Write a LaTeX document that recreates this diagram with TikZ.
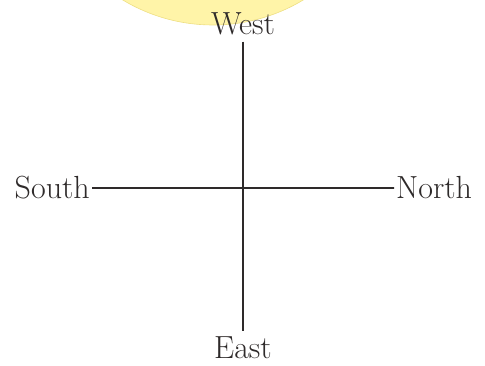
\documentclass[tikz,border=0pt]{standalone}
\usepackage{tikz}
\usetikzlibrary{positioning}
\definecolor{sun_fill}{HTML}{FFF4A8}
\definecolor{sun_edge}{HTML}{EEDF84}
\definecolor{axis_gray}{HTML}{2E2A2A}

\begin{document}
\begin{tikzpicture}[
                x=1pt, y=-1pt,
                dir/.style={font=\fontsize{32}{38}\selectfont, text=axis_gray, inner sep=2pt},
                axis/.style={line width=1.7pt, draw=axis_gray}
            ]
                \clip (0,0) rectangle (485,366);
                \useasboundingbox (0,0) rectangle (485,366);

                % Sun
                \node (sun) [circle, fill=sun_fill, draw=sun_edge, line width=0.6pt, minimum size=350pt, inner sep=0pt] at (213,-150) {};

                % Directions
                \node (west) [dir, anchor=base] at (243,35) {West};
                \node (east) [dir, anchor=base] at (243,358) {East};
                \node (south) [dir, anchor=base east] at (92,199) {South};
                \node (north) [dir, anchor=base west] at (394,199) {North};

                % Axes
                \draw [axis, shorten <=4pt, shorten >=3pt] (west) -- (east);
                \draw [axis] (south) -- (north);
            \end{tikzpicture}
\end{document}
